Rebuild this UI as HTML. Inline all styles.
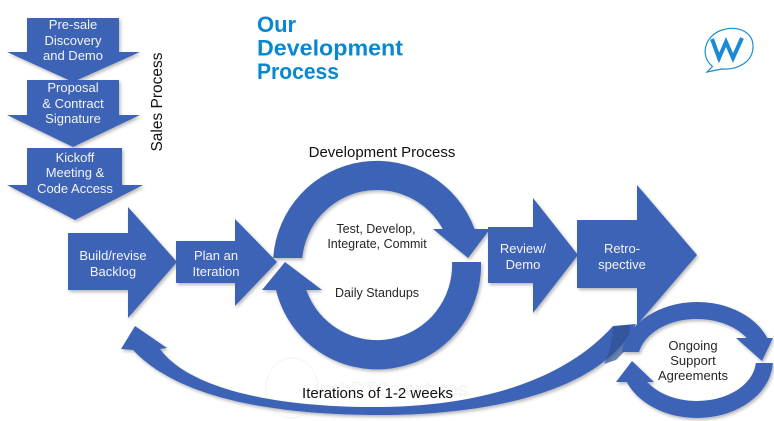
<!DOCTYPE html>
<html>
<head>
<meta charset="utf-8">
<style>
  html, body { margin: 0; padding: 0; background: #ffffff; }
  body { width: 774px; height: 421px; overflow: hidden; }
  svg { display: block; }
  .w { font-family: "Liberation Sans", Arial, sans-serif; font-size: 13px; fill: #f4f4f4; text-anchor: middle; }
  .d { font-family: "Liberation Sans", Arial, sans-serif; font-size: 12.5px; fill: #262626; text-anchor: middle; }
  .k { font-family: "Liberation Sans", Arial, sans-serif; font-size: 15px; fill: #111; text-anchor: middle; }
  .t { font-family: "Liberation Sans", "DejaVu Sans", sans-serif; font-size: 22px; font-weight: bold; fill: #0a87d1; }
</style>
</head>
<body>
<svg width="774" height="421" viewBox="0 0 774 421" xmlns="http://www.w3.org/2000/svg">
  <defs>
    <filter id="sh" x="-10%" y="-10%" width="130%" height="130%">
      <feDropShadow dx="1.5" dy="2" stdDeviation="1.5" flood-color="#000" flood-opacity="0.28"/>
    </filter>
  </defs>

  <!-- watermark -->
  <g opacity="0.25" fill="none" stroke="#cfcfcf" stroke-width="1">
    <ellipse cx="292" cy="388" rx="26" ry="30"/>
  </g>
  <text x="316" y="396" font-family="Liberation Sans, sans-serif" font-size="19" fill="none" stroke="#ececec" stroke-width="0.5">webRTC ventures</text>

  <g fill="#3d64b6" filter="url(#sh)">
    <!-- Sales chevrons -->
    <polygon points="27,18 119,18 119,52 140,52 73,82 7,52 27,52"/>
    <polygon points="27,80 119,80 119,115 140,115 73,147 7,115 27,115"/>
    <polygon points="27,148 122,148 122,185 143,185 75,220 7,185 27,185"/>

    <!-- Build/revise -->
    <polygon points="68,233 128,233 128,207 177,262 128,318 128,290 68,290"/>
    <!-- Plan an iteration -->
    <polygon points="176,241 235,241 235,219 277,262 235,306 235,283 176,283"/>

    <!-- Development circle -->
    <path d="M 273.2 258 A 104 104 0 0 1 474.6 229 L 490 229 L 468 258 L 433 229 L 442.8 229 A 75 75 0 0 0 302.3 258 Z"/>
    <path d="M 481 262 A 104 104 0 0 1 276 290 L 262 290 L 285 262 L 322 290 L 306.3 290 A 75 75 0 0 0 452 262 Z"/>

    <!-- Review/Demo -->
    <polygon points="488,227 533,227 533,198 578,255 533,313 533,283 488,283"/>
    <!-- Retro-spective -->
    <polygon points="577,220 637,220 637,185 697,255 637,325 637,288 577,288"/>

    <!-- Big curved return arrow -->
    <path d="M 160 349 C 190 390, 280 408, 380 407 C 470 406, 560 385, 613 326 L 636 324 C 600 395, 480 414, 390 415 C 280 416, 180 400, 133 350 L 121 349 L 135 326 L 167 348 Z"/>
  </g>
  <path d="M 613 327 L 630 325 L 628 348 L 616 360 L 604 364 C 610 352, 612 340, 613 327 Z" fill="#2f5196" opacity="0.7"/>

  <!-- Ongoing support ellipse -->
  <g fill="#3d64b6" filter="url(#sh)">
    <path d="M 621.7 352 A 76 58 0 0 1 767.3 338 L 773 338 L 762 361 L 736 338 L 746.8 338 A 59 41 0 0 0 639.1 352 Z"/>
    <path d="M 772.9 363 A 76 58 0 0 1 626.7 382 L 616 382 L 632 361 L 654 382 L 647.2 382 A 59 41 0 0 0 755.8 363 Z"/>
  </g>

  <!-- Chevron texts -->
  <text class="w" x="73" y="29">Pre-sale</text>
  <text class="w" x="73" y="45">Discovery</text>
  <text class="w" x="73" y="60">and Demo</text>
  <text class="w" x="73" y="92">Proposal</text>
  <text class="w" x="73" y="108">&amp; Contract</text>
  <text class="w" x="73" y="123">Signature</text>
  <text class="w" x="75" y="162">Kickoff</text>
  <text class="w" x="75" y="177">Meeting &amp;</text>
  <text class="w" x="75" y="193">Code Access</text>

  <text class="w" x="113" y="260">Build/revise</text>
  <text class="w" x="113" y="276">Backlog</text>
  <text class="w" x="216" y="260">Plan an</text>
  <text class="w" x="216" y="276">Iteration</text>
  <text class="w" x="523" y="253">Review/</text>
  <text class="w" x="523" y="269">Demo</text>
  <text class="w" x="622" y="253">Retro-</text>
  <text class="w" x="622" y="269">spective</text>

  <!-- Dev circle texts -->
  <text class="d" x="376" y="233">Test, Develop,</text>
  <text class="d" x="377" y="248">Integrate, Commit</text>
  <text class="d" x="377" y="297">Daily Standups</text>

  <text class="d" x="693" y="350" style="font-size:13px">Ongoing</text>
  <text class="d" x="693" y="365" style="font-size:13px">Support</text>
  <text class="d" x="693" y="380" style="font-size:13px">Agreements</text>

  <!-- Labels -->
  <text class="k" x="382" y="157">Development Process</text>
  <text class="k" x="377.5" y="398">Iterations of 1-2 weeks</text>
  <text class="k" transform="translate(162,102) rotate(-90)" x="0" y="0" style="font-size:15.5px">Sales Process</text>

  <!-- Title -->
  <text class="t" x="257" y="32">Our</text>
  <text class="t" x="257" y="55.5" textLength="146" lengthAdjust="spacingAndGlyphs">Development</text>
  <text class="t" x="257" y="79" textLength="82" lengthAdjust="spacingAndGlyphs">Process</text>

  <!-- Logo -->
  <g fill="none" stroke="#1a8ad4">
    <path d="M 712 66 C 700 56, 704 36, 722 30 C 738 25, 754 32, 753 48 C 752 62, 738 70, 722 69 L 707 72 L 713 66" stroke-width="1.2"/>
    <path d="M 712 39 L 719 58 L 726 42 L 733 58 L 742 38" stroke-width="4" stroke-linejoin="miter"/>
  </g>
</svg>
</body>
</html>
